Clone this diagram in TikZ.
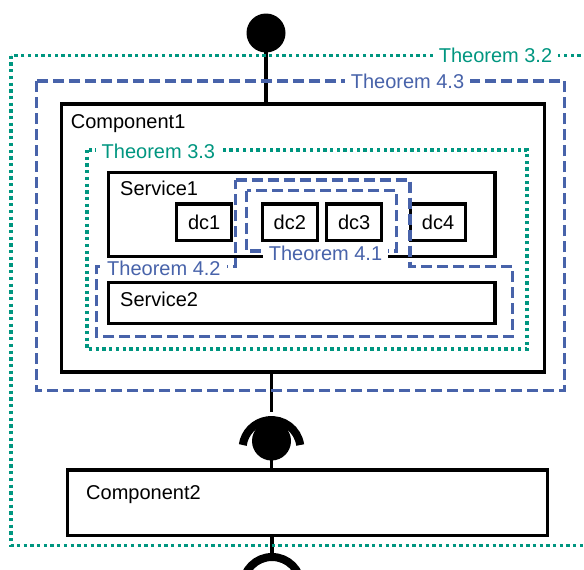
\documentclass[tikz,border=0pt]{standalone}
\usepackage{fontspec}
\setmainfont{Liberation Sans}
\definecolor{thmgreen}{RGB}{0,150,128}
\definecolor{thmblue}{RGB}{72,99,170}
\begin{document}
\begin{tikzpicture}[x=1pt,y=-1pt,
  box/.style={draw=black, line width=3.4pt, rectangle, inner sep=0pt,
              outer sep=0pt, anchor=north west, fill=white},
  dcbox/.style={draw=black, line width=3.4pt, rectangle, inner sep=0pt,
                outer sep=0pt, minimum width=55pt, minimum height=36.7pt,
                font=\fontsize{20}{24}\selectfont},
  boxtitle/.style={inner sep=0pt, anchor=base west, font=\fontsize{20}{24}\selectfont},
  wire/.style={draw=black, line width=3.6pt},
  socketarc/.style={draw=black, line width=8pt},
  ballnode/.style={circle, fill=black, minimum size=39pt, inner sep=0pt, outer sep=0pt},
  dashb/.style={draw=thmblue, line width=3.5pt, dash pattern=on 11pt off 5pt},
  dotg/.style={draw=thmgreen, line width=3.4pt, dash pattern=on 3.3pt off 3.4pt},
  thm/.style={fill=white, inner xsep=6pt, inner ysep=1pt, anchor=base,
              font=\fontsize{20}{24}\selectfont},
]
\useasboundingbox (0,0) rectangle (584,570);

% interface symbols
\node[ballnode] (ball1) at (266,33) {};
\node[ballnode] (ball2) at (271.5,441) {};
\coordinate (sock1c) at (271.5,441);
\coordinate (sock1) at (271.5,412);
\coordinate (sock2c) at (272,586);
\coordinate (sock2) at (272,557);

% components and services
\node[box, minimum width=482.8pt, minimum height=268pt] (comp1) at (61.7,104) {};
\node[box, minimum width=479.6pt, minimum height=65.5pt] (comp2) at (67.7,470) {};
\node[box, minimum width=386.7pt, minimum height=84.4pt] (serv1) at (108.3,172.3) {};
\node[box, minimum width=386.7pt, minimum height=40.6pt] (serv2) at (108.3,282.7) {};

\node[boxtitle] (comp1name) at (70.7,128.3) {Component1};
\node[boxtitle] (comp2name) at (86,499) {Component2};
\node[boxtitle] (serv1name) at (120,195) {Service1};
\node[boxtitle] (serv2name) at (120,306) {Service2};

\node[dcbox] (dc1) at (204.2,222.4) {dc1};
\node[dcbox] (dc2) at (289.8,222.4) {dc2};
\node[dcbox] (dc3) at (354.2,222.4) {dc3};
\node[dcbox] (dc4) at (438,222.4) {dc4};

% connectors
\draw[wire] (ball1.center) -- (ball1 |- comp1.north);
\draw[wire] (comp1.south -| sock1) -- (sock1);
\draw[socketarc] (sock1c) ++(28.7pt,-4pt) arc[start angle=8, end angle=172, radius=29pt];
\draw[wire] (ball2.center) -- (ball2 |- comp2.north);
\draw[wire] (comp2.south -| sock2) -- (sock2);
\draw[socketarc] (sock2c) ++(29pt,0pt) arc[start angle=0, end angle=180, radius=29pt];

% theorem regions
\draw[dotg] (11,55.7) rectangle (620,545.5);
\draw[dashb] (36.7,81) rectangle (564.7,390.7);
\draw[dotg] (87,150) rectangle (527,349);
\draw[dashb] (235.7,180) -- (410,180) -- (410,266.7) -- (512.7,266.7)
  -- (512.7,336.7) -- (96.7,336.7) -- (96.7,266.7) -- (235.7,266.7) -- cycle;
\draw[dashb] (246.7,190.7) rectangle (396.7,251);

% theorem labels
\node[thm, text=thmgreen] (t32) at (495.5,62.7) {Theorem 3.2};
\node[thm, text=thmblue] (t43) at (407.5,88.3) {Theorem 4.3};
\node[thm, text=thmgreen] (t33) at (158.4,158.3) {Theorem 3.3};
\node[thm, text=thmblue] (t41) at (325.5,260.7) {Theorem 4.1};
\node[thm, text=thmblue] (t42) at (163.9,275.2) {Theorem 4.2};
\end{tikzpicture}
\end{document}
